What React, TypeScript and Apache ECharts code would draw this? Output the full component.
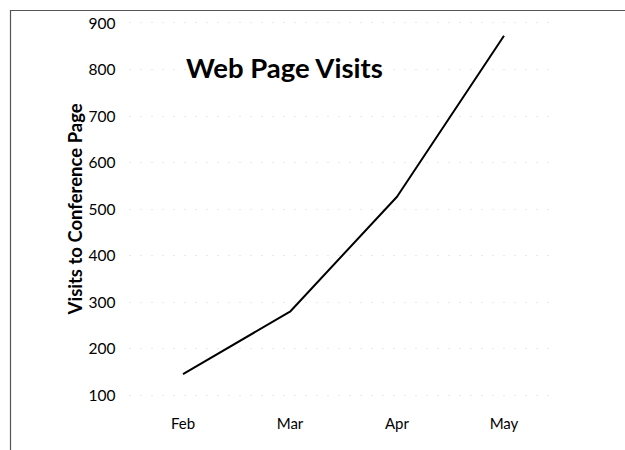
import React, { useEffect, useRef } from "react";
import * as echarts from "echarts";

const months = ["Feb", "Mar", "Apr", "May"];
const visits = [145, 279, 526, 872];
const yTicks = { min: 100, max: 900, interval: 100 };
const titleText = "Web Page Visits";
const yName = "Visits to Conference Page";

export default function App() {
  const ref = useRef<HTMLDivElement>(null);
  useEffect(() => {
    if (!ref.current) return;
    const chart = echarts.init(ref.current, null, { renderer: "svg" });
    const font = "Lato";
    chart.setOption({
      animation: false,
      backgroundColor: "#ffffff",
      title: {
        text: titleText,
        left: 181,
        top: 48,
        textStyle: { fontFamily: font, fontWeight: "bold", fontSize: 27.5, color: "#000" },
      },
      graphic: [
        {
          type: "rect",
          shape: { x: 10.5, y: 10.5, width: 800, height: 600 },
          style: { fill: "none", stroke: "#555", lineWidth: 1.2 },
          silent: true,
        },
      ],
      grid: { left: 129.5, right: 67.5, top: 22.7, bottom: 55 },
      xAxis: {
        type: "category",
        data: months,
        boundaryGap: true,
        axisLine: { show: false },
        axisTick: { show: false },
        axisLabel: { margin: 20, fontFamily: font, fontSize: 15, color: "#000" },
      },
      yAxis: {
        type: "value",
        min: yTicks.min,
        max: yTicks.max,
        interval: yTicks.interval,
        name: yName,
        nameLocation: "middle",
        nameGap: 45,
        nameMoveOverlap: false,
        nameTextStyle: { fontFamily: font, fontWeight: "bold", fontSize: 18.5, color: "#000" },
        axisLine: { show: false },
        axisTick: { show: false },
        axisLabel: { margin: 14, fontFamily: font, fontSize: 15.5, color: "#000" },
        splitLine: { show: true, lineStyle: { color: "#d4d4d4", type: [1, 10], width: 1 } },
      },
      series: [
        {
          type: "line",
          data: visits,
          symbol: "none",
          lineStyle: { color: "#000", width: 2 },
        },
      ],
    });
    return () => chart.dispose();
  }, []);
  return (
    <div
      ref={ref}
      style={{ position: "fixed", left: 0, top: 0, width: 625, height: 450 }}
    />
  );
}
